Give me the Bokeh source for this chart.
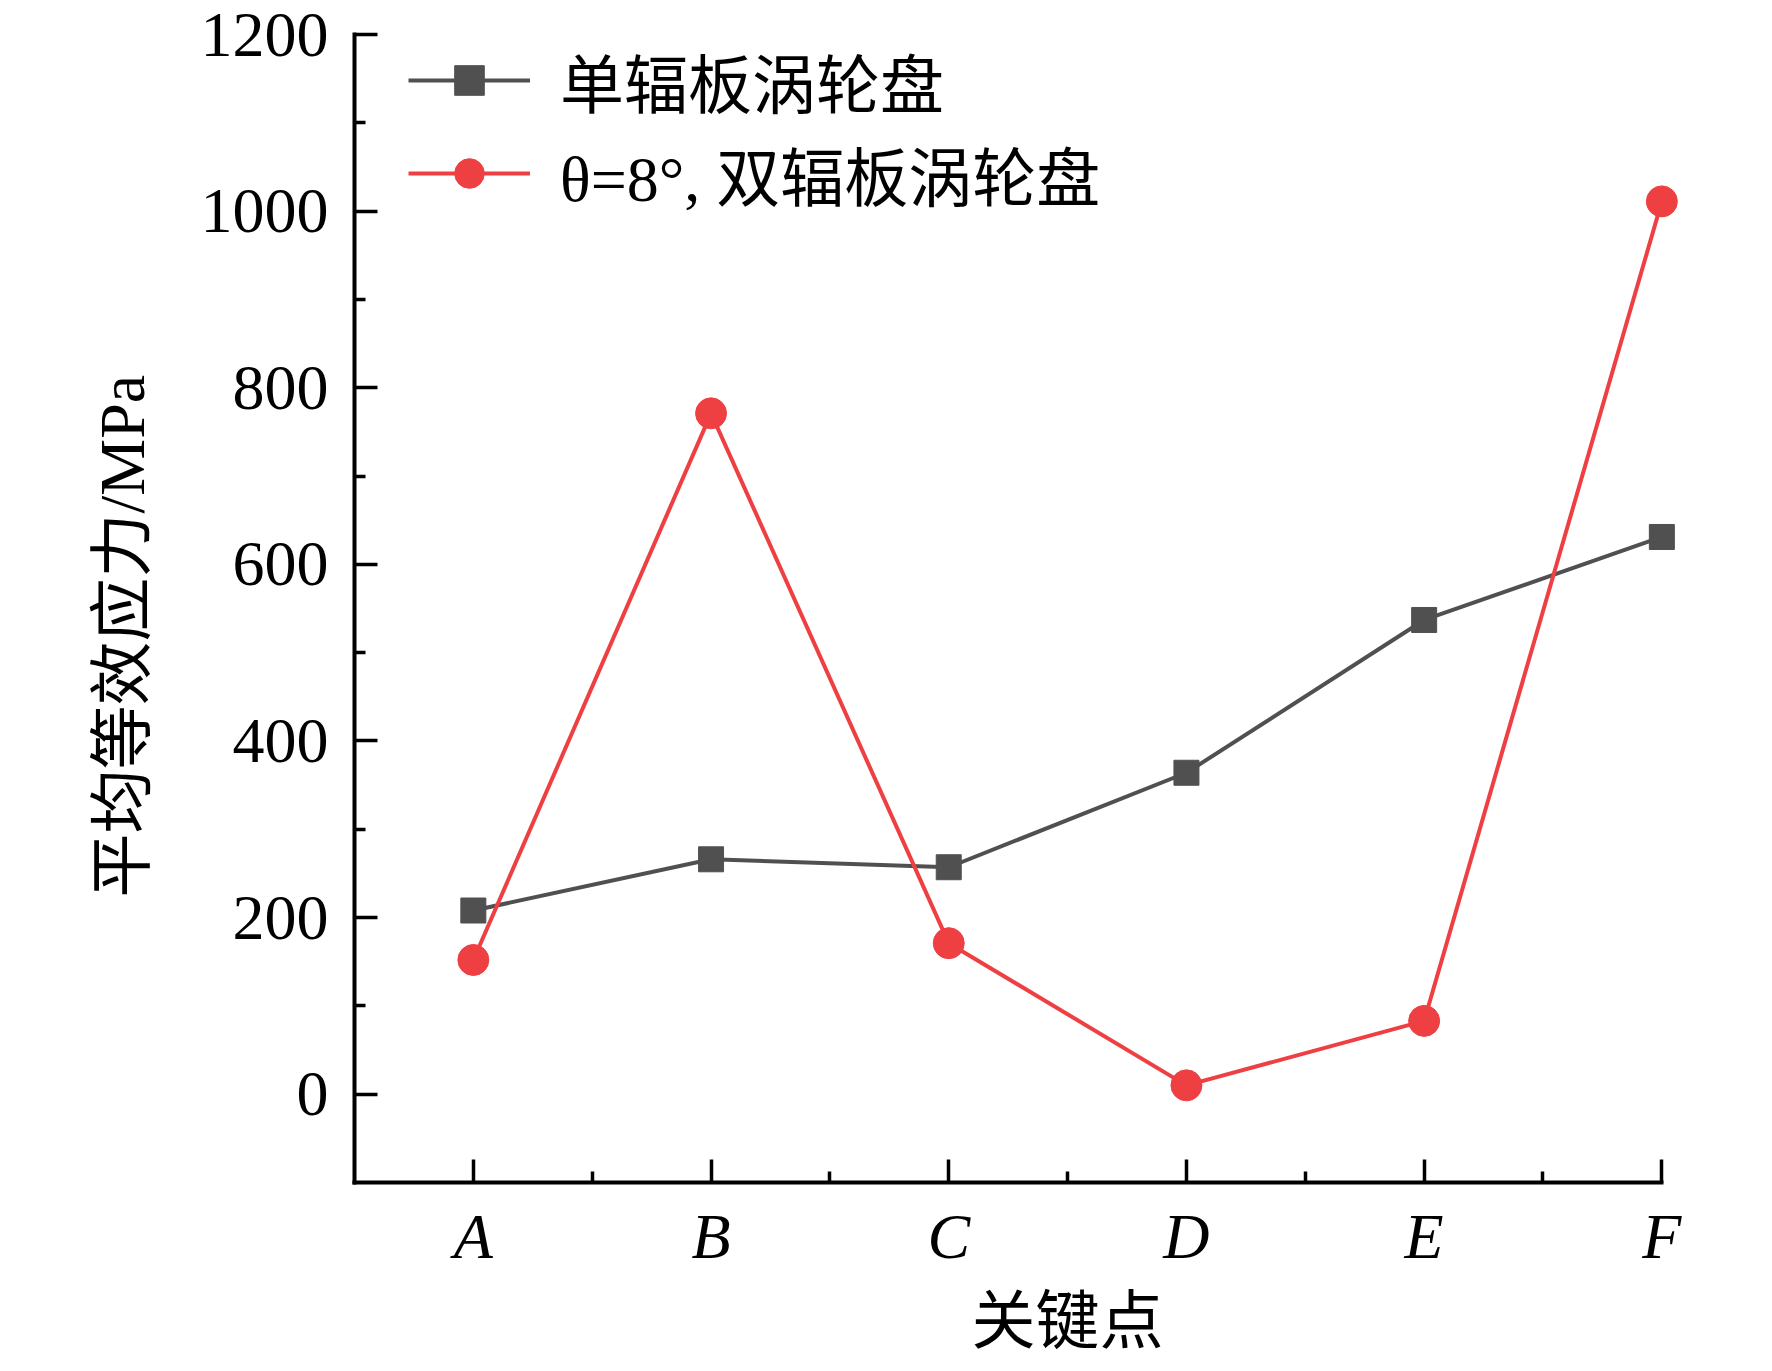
from bokeh.plotting import figure
from bokeh.models import Range1d, FixedTicker, Legend, Title
from bokeh.embed import file_html
from bokeh.resources import INLINE

# ---- data ----
categories = ["A", "B", "C", "D", "E", "F"]
single_web = [208, 266, 257, 364, 537, 631]      # 单辐板涡轮盘
double_web = [152, 771, 171, 10, 83, 1011]      # θ=8°, 双辐板涡轮盘
y_ticks = [0, 200, 400, 600, 800, 1000, 1200]
y_minor = [100, 300, 500, 700, 900, 1100]
series_names = ["单辐板涡轮盘", "θ=8°, 双辐板涡轮盘"]
x_title = "关键点"
y_title = "平均等效应力/MPa"

xs = list(range(len(categories)))
x_minor = [i + 0.5 for i in xs[:-1]]

LATIN = "Liberation Serif"
MIXED = "Liberation Serif, Noto Sans CJK SC"
GRAY = "#505050"
RED = "#EE4043"

p = figure(width=1772, height=1371, output_backend="svg", toolbar_location=None,
           x_range=Range1d(-0.5, 5.15), y_range=Range1d(-100, 1200))
p.min_border_left = 354
p.min_border_right = 75
p.min_border_top = 34
p.min_border_bottom = 189
p.outline_line_color = None
p.xgrid.visible = False
p.ygrid.visible = False
p.background_fill_color = "white"
p.border_fill_color = "white"

# axes
for ax in (p.xaxis[0], p.yaxis[0]):
    ax.axis_line_width = 4
    ax.axis_line_color = "black"
    ax.axis_line_cap = "square"
    ax.major_tick_line_width = 3.5
    ax.minor_tick_line_width = 3.5
    ax.major_tick_line_color = "black"
    ax.minor_tick_line_color = "black"
    ax.major_tick_in = 23
    ax.major_tick_out = 0
    ax.minor_tick_in = 11
    ax.minor_tick_out = 0
    ax.major_label_text_font = LATIN
    ax.major_label_text_font_size = "64px"
    ax.major_label_text_color = "black"

p.xaxis.ticker = FixedTicker(ticks=xs, minor_ticks=x_minor)
p.xaxis.major_label_overrides = {i: c for i, c in zip(xs, categories)}
p.xaxis.major_label_text_font_style = "italic"
p.xaxis.major_label_standoff = 18
p.xaxis.bounds = (-0.5, xs[-1])

p.yaxis.ticker = FixedTicker(ticks=y_ticks, minor_ticks=y_minor)
p.yaxis.major_label_standoff = 26
p.yaxis.bounds = (-100, 1200)

# series
l1 = p.line(xs, single_web, line_color=GRAY, line_width=4)
s1 = p.scatter(xs, single_web, marker="square", size=25, fill_color=GRAY, line_color=GRAY)
l2 = p.line(xs, double_web, line_color=RED, line_width=4)
s2 = p.scatter(xs, double_web, marker="circle", size=31, fill_color=RED, line_color=RED)

legend = Legend(items=[(series_names[0], [l1, s1]), (series_names[1], [l2, s2])],
                location=(54, 963))
legend.margin = 0
legend.padding = 10
legend.spacing = 1
legend.glyph_width = 122
legend.glyph_height = 74
legend.label_height = 74
legend.label_standoff = 30
legend.label_text_font = MIXED
legend.label_text_font_size = "64px"
legend.label_text_color = "black"
legend.border_line_color = None
legend.background_fill_alpha = 0
p.add_layout(legend, "center")

# axis titles
xt = Title(text=x_title, align="left", offset=617, vertical_align="top", standoff=23,
           text_font=MIXED, text_font_size="64px", text_font_style="normal",
           text_color="black")
p.add_layout(xt, "below")
yt = Title(text=y_title, align="left", offset=285, vertical_align="bottom", standoff=80,
           text_font=MIXED, text_font_size="64px", text_font_style="normal",
           text_color="black")
p.add_layout(yt, "left")

open("out.html", "w").write(file_html(p, INLINE))
